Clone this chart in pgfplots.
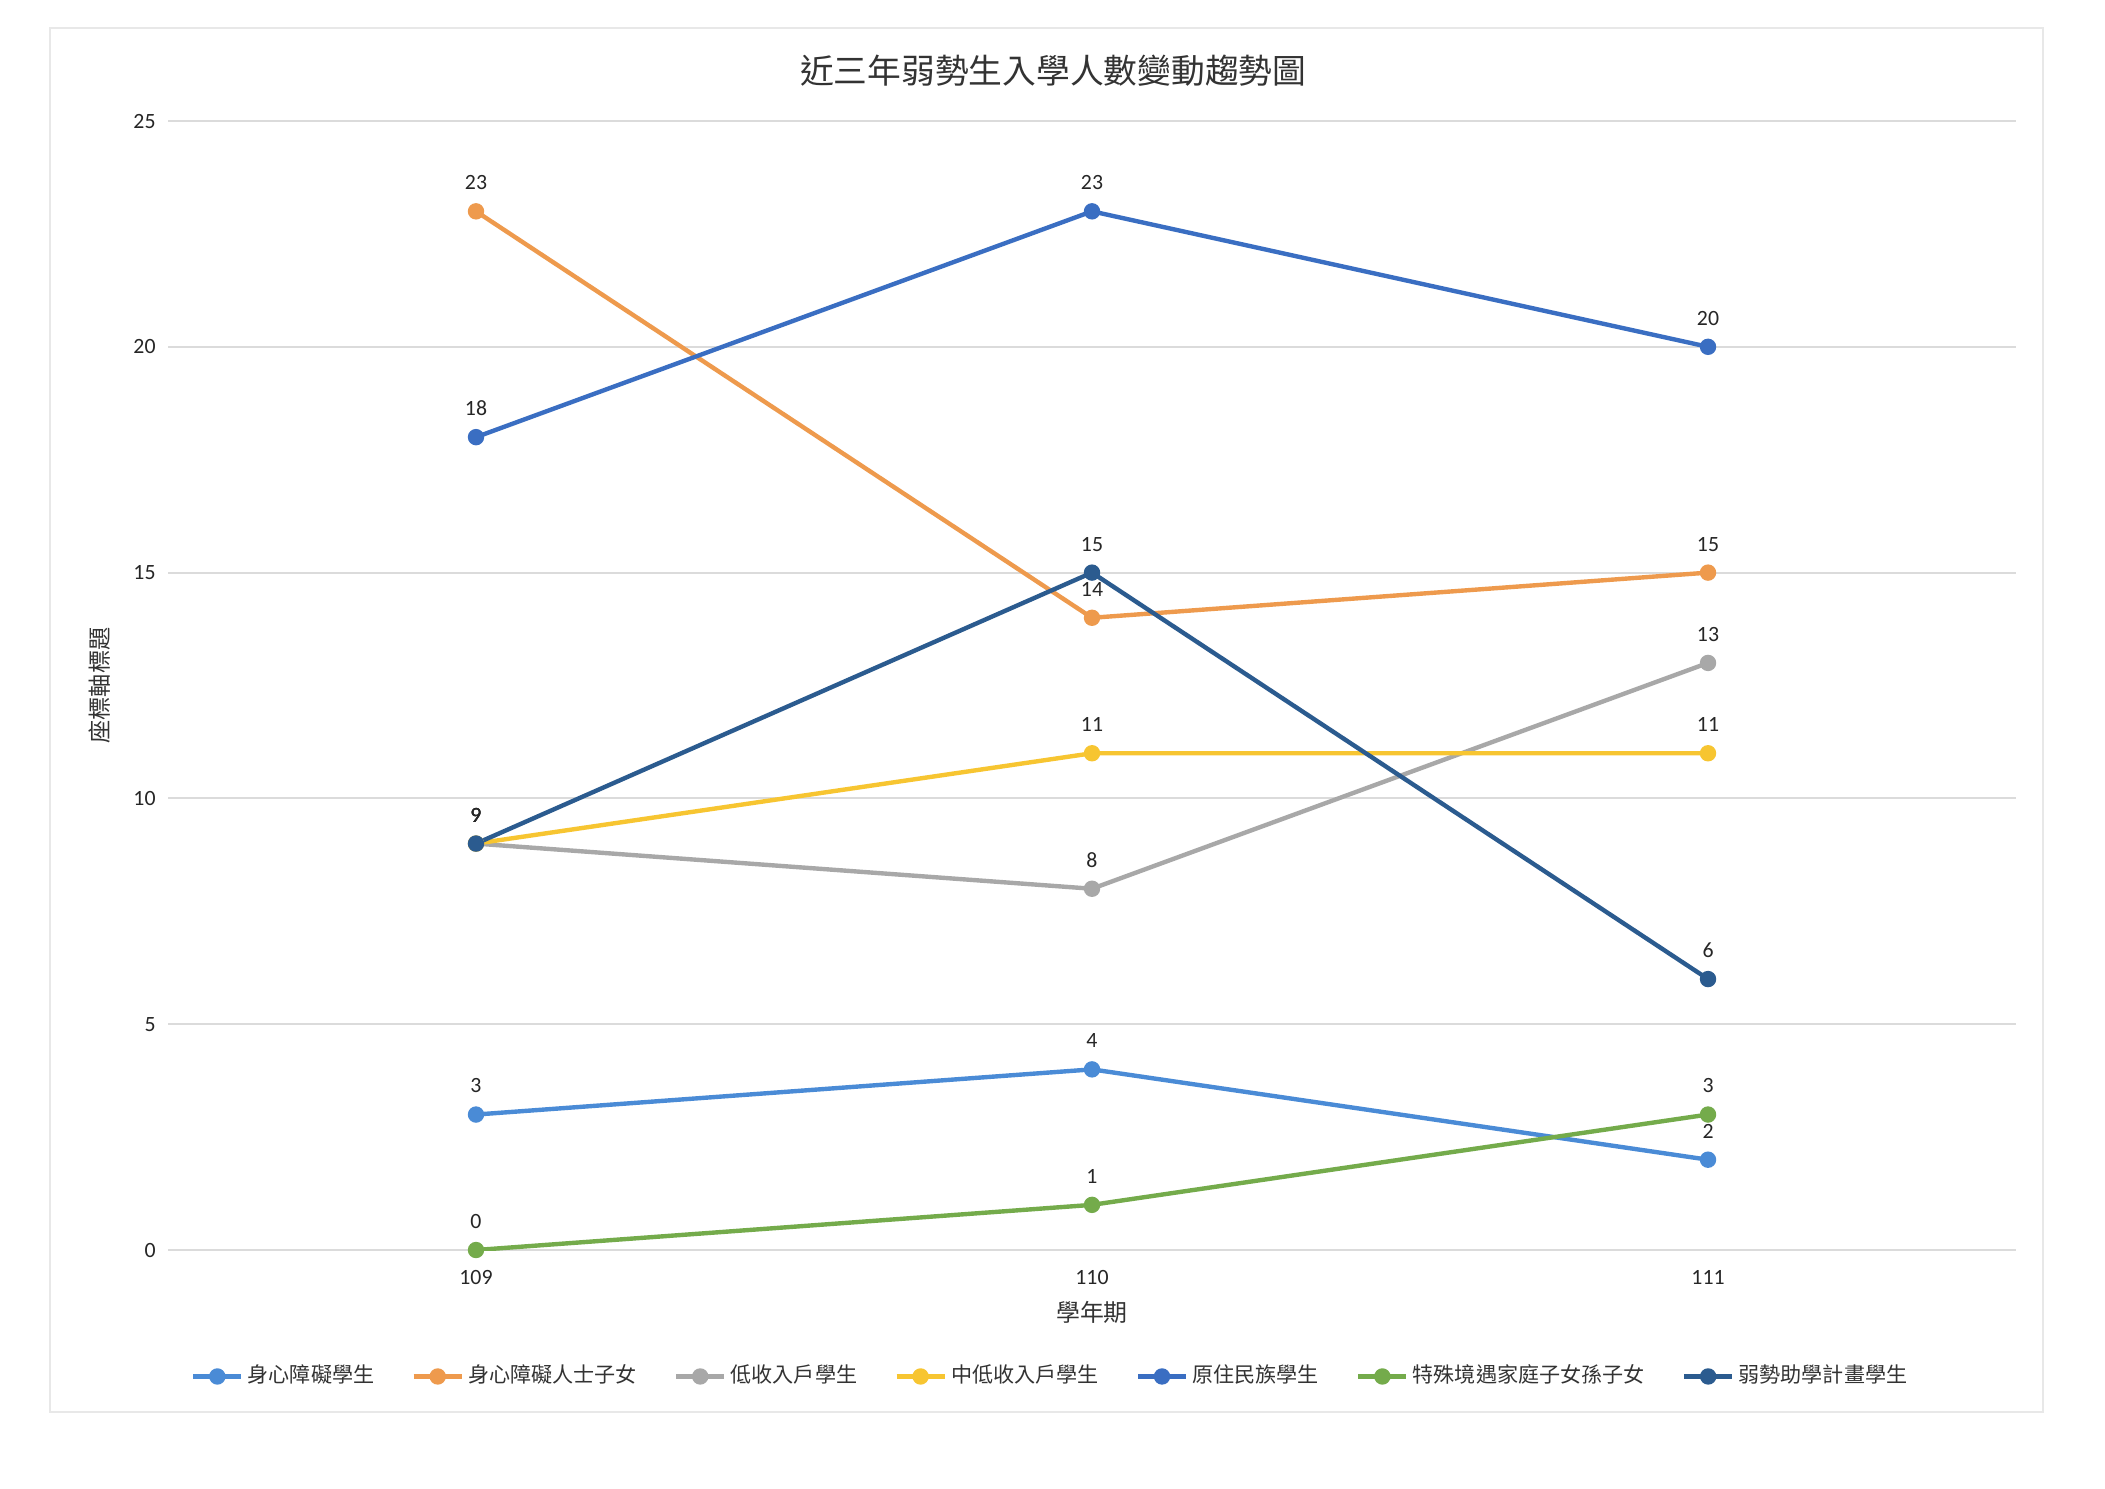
\documentclass[border=0pt]{standalone}
\usepackage{pgfplots}
\pgfplotsset{compat=1.18}
\usepackage{fontspec}
\setmainfont{Carlito}
\newfontfamily\cjk{Noto Sans CJK TC}
\definecolor{sA}{HTML}{4A8BD6}
\definecolor{sB}{HTML}{EE9A4D}
\definecolor{sC}{HTML}{A8A8A8}
\definecolor{sD}{HTML}{F7C531}
\definecolor{sE}{HTML}{3A6EC2}
\definecolor{sF}{HTML}{74AB4B}
\definecolor{sG}{HTML}{2B5B8F}
\definecolor{txt}{HTML}{262626}
\begin{document}
\begin{tikzpicture}
\useasboundingbox (0,0) rectangle (21.05cm,14.88cm);
\fill[white] (0,0) rectangle (21.05cm,14.88cm);
\draw[gray!18, line width=0.6pt] (0.50cm,0.76cm) rectangle (20.43cm,14.60cm);
\begin{axis}[
  at={(1.68cm,2.38cm)}, anchor=south west,
  scale only axis, width=18.48cm, height=11.29cm,
  xmin=-0.5, xmax=2.5, ymin=0, ymax=25,
  xtick={0,1,2}, xticklabels={109,110,111},
  ytick={0,5,10,15,20,25},
  axis line style={draw=none},
  major tick length=0pt,
  ymajorgrids, grid style={gray!28, line width=0.6pt},
  /pgf/number format/assume math mode=true,
  tick label style={font=\fontsize{6.2}{7}\selectfont, text=txt},
  xticklabel style={yshift=-0.8mm},
  title={\cjk 近三年弱勢生入學人數變動趨勢圖},
  title style={at={(rel axis cs:0.479,1.026)}, anchor=center, font=\fontsize{9.6}{11}\selectfont, text=black!80},
  xlabel={\cjk 學年期},
  xlabel style={at={(rel axis cs:0.5,-0.055)}, anchor=center, font=\fontsize{6.8}{8}\selectfont, text=black!80},
  ylabel={\cjk 座標軸標題},
  ylabel style={at={(rel axis cs:-0.0368,0.5)}, anchor=center, rotate=0, font=\fontsize{6.6}{8}\selectfont, text=black!80},
  every axis plot/.append style={line width=1.25pt, mark=*, mark size=1.7pt},
  nodes near coords,
  every node near coord/.append style={font=\fontsize{6.2}{7}\selectfont, text=txt, anchor=south, yshift=0.75mm},
  legend columns=7,
  legend style={at={(rel axis cs:0.478,-0.112)}, anchor=center, draw=none, fill=none,
    font=\fontsize{6.0}{7}\selectfont\cjk, text=black!80,
    nodes={inner xsep=1.2pt},
    /tikz/every even column/.append style={column sep=0.33cm}},
  legend image code/.code={
    \draw[#1, mark repeat=2, mark phase=2] plot coordinates {(0cm,0cm) (0.24cm,0cm) (0.48cm,0cm)};
  },
]
\addplot[color=sA, mark options={fill=sA}] coordinates {(0,3) (1,4) (2,2)};
\addlegendentry{身心障礙學生}
\addplot[color=sB, mark options={fill=sB}] coordinates {(0,23) (1,14) (2,15)};
\addlegendentry{身心障礙人士子女}
\addplot[color=sC, mark options={fill=sC}] coordinates {(0,9) (1,8) (2,13)};
\addlegendentry{低收入戶學生}
\addplot[color=sD, mark options={fill=sD}] coordinates {(0,9) (1,11) (2,11)};
\addlegendentry{中低收入戶學生}
\addplot[color=sE, mark options={fill=sE}] coordinates {(0,18) (1,23) (2,20)};
\addlegendentry{原住民族學生}
\addplot[color=sF, mark options={fill=sF}] coordinates {(0,0) (1,1) (2,3)};
\addlegendentry{特殊境遇家庭子女孫子女}
\addplot[color=sG, mark options={fill=sG}] coordinates {(0,9) (1,15) (2,6)};
\addlegendentry{弱勢助學計畫學生}
\end{axis}
\end{tikzpicture}
\end{document}
